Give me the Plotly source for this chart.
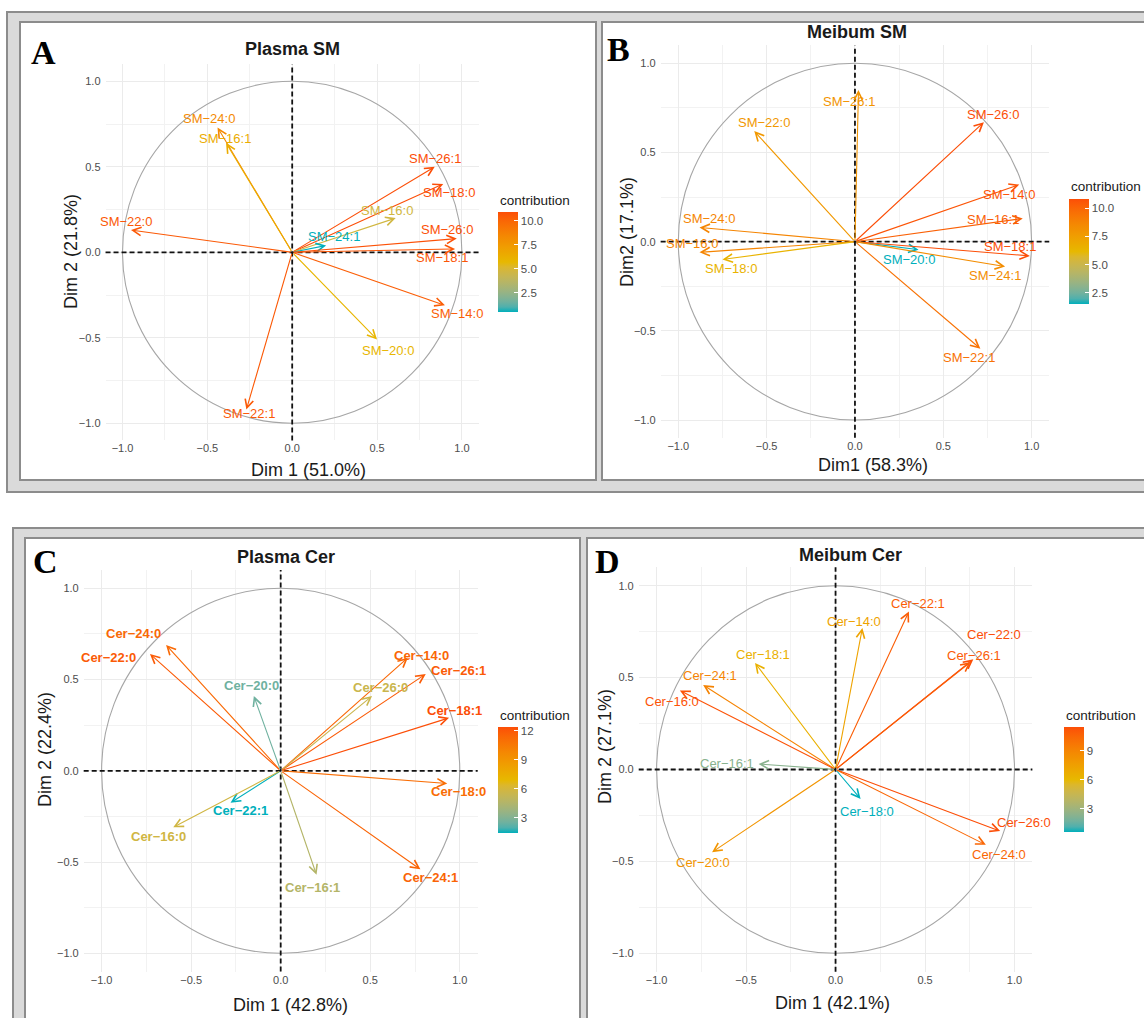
import plotly.graph_objects as go

W, H = 1144, 1018

# ---------------- DATA ----------------
# Panel A: Plasma SM
a_vars = ["SM−22:0", "SM−24:0", "SM−16:1", "SM−26:1", "SM−18:0", "SM−16:0",
          "SM−24:1", "SM−26:0", "SM−18:1", "SM−14:0", "SM−20:0", "SM−22:1"]
a_dim1 = [-0.95, -0.44, -0.39, 0.84, 0.89, 0.61, 0.20, 0.97, 0.96, 0.90, 0.50, -0.27]
a_dim2 = [0.13, 0.73, 0.64, 0.50, 0.40, 0.20, 0.04, 0.08, 0.02, -0.31, -0.51, -0.92]
a_contrib = [10.5, 8.3, 6.4, 10.9, 10.9, 4.7, 0.5, 10.8, 10.6, 10.3, 5.8, 10.5]

# Panel B: Meibum SM
b_vars = ["SM−26:1", "SM−22:0", "SM−26:0", "SM−14:0", "SM−16:1", "SM−24:0",
          "SM−16:0", "SM−18:0", "SM−20:0", "SM−18:1", "SM−24:1", "SM−22:1"]
b_dim1 = [0.02, -0.57, 0.73, 0.93, 0.95, -0.88, -0.88, -0.75, 0.36, 0.99, 0.85, 0.71]
b_dim2 = [0.85, 0.62, 0.67, 0.32, 0.13, 0.08, -0.06, -0.10, -0.045, -0.08, -0.14, -0.60]
b_contrib = [8.0, 7.8, 10.8, 10.6, 10.2, 8.7, 8.7, 6.4, 1.5, 10.8, 8.3, 9.5]

# Panel C: Plasma Cer
c_vars = ["Cer−24:0", "Cer−22:0", "Cer−20:0", "Cer−14:0", "Cer−26:1", "Cer−26:0",
          "Cer−18:1", "Cer−18:0", "Cer−22:1", "Cer−16:0", "Cer−16:1", "Cer−24:1"]
c_dim1 = [-0.64, -0.73, -0.15, 0.71, 0.81, 0.51, 0.94, 0.93, -0.28, -0.60, 0.20, 0.78]
c_dim2 = [0.69, 0.64, 0.41, 0.62, 0.53, 0.41, 0.29, -0.07, -0.175, -0.31, -0.57, -0.54]
c_contrib = [11.3, 11.9, 2.5, 11.4, 11.9, 5.5, 12.4, 11.1, 1.4, 5.8, 4.6, 11.5]

# Panel D: Meibum Cer
d_vars = ["Cer−22:1", "Cer−14:0", "Cer−22:0", "Cer−26:1", "Cer−18:1", "Cer−24:1",
          "Cer−16:0", "Cer−16:1", "Cer−18:0", "Cer−26:0", "Cer−24:0", "Cer−20:0"]
d_dim1 = [0.41, 0.15, 0.77, 0.755, -0.45, -0.74, -0.87, -0.43, 0.14, 0.92, 0.84, -0.69]
d_dim2 = [0.86, 0.77, 0.60, 0.585, 0.58, 0.46, 0.43, 0.03, -0.16, -0.335, -0.41, -0.45]
d_contrib = [10.9, 7.3, 11.5, 11.0, 6.5, 9.1, 11.3, 2.3, 0.55, 11.5, 10.5, 8.1]

titles = ["Plasma SM", "Meibum SM", "Plasma Cer", "Meibum Cer"]
letters = ["A", "B", "C", "D"]
xtitles = ["Dim 1 (51.0%)", "Dim1 (58.3%)", "Dim 1 (42.8%)", "Dim 1 (42.1%)"]
ytitles = ["Dim 2 (21.8%)", "Dim2 (17.1%)", "Dim 2 (22.4%)", "Dim 2 (27.1%)"]
cb_ticks = [[2.5, 5.0, 7.5, 10.0], [2.5, 5.0, 7.5, 10.0], [3, 6, 9, 12], [3, 6, 9]]
cb_ticktext = [["2.5", "5.0", "7.5", "10.0"], ["2.5", "5.0", "7.5", "10.0"],
               ["3", "6", "9", "12"], ["3", "6", "9"]]
axis_ticks = [-1.0, -0.5, 0.0, 0.5, 1.0]

# ---------------- STYLE / LAYOUT ----------------
# label offsets in pixels (dx right, dy down) relative to arrow tips
a_off = [(-5, -9), (-9, -9), (-1, -4), (0, -8), (6, 9), (-9, -8), (8, -9), (-10, -9), (-13, 9), (12, 8), (11, 11), (3, 4)]
b_off = [(-9, 11), (10, -9), (9, -8), (-10, 10), (-30, 1), (10, -9), (-7, -9), (9, 9), (-10, 10), (-20, -9), (-10, 9), (-11, 9)]
c_off = [(-33, -11), (-41, 3), (-2, -10), (14, -2), (33, -4), (8, -8), (5, -7), (11, 8), (10, 8), (-15, 9), (-4, 13), (10, 8)]
d_off = [(9, -8), (-8, -6), (21, -25), (3, -6), (8, -8), (7, -9), (-8, 11), (-32, 0), (6, 13), (24, -9), (13, 10), (-9, 10)]

# pixel geometry of each panel: x pixel of dim1=-1 and +1, y pixel of dim2=+1 and -1
geo = [(122.5, 461.9, 81.3, 423.3), (678.3, 1031.6, 63.3, 420.0),
       (101.6, 459.8, 588.3, 953.3), (656.6, 1014.5, 585.7, 953.3)]
title_pos = [(293, 49), (857, 32), (286, 557), (850, 555)]
letter_pos = [(43, 52), (618, 50), (45, 561), (607, 561)]
xt_pos = [(308, 470), (873, 465), (290, 1005), (832, 1003)]
yt_pos = [(71, 252), (627, 232), (45, 750), (605, 747)]
cb_geo = [(497.5, 212, 312), (1069, 199, 304), (497.5, 727, 833), (1064, 727, 832)]
lt_pos = [(497.5, 200), (1069, 186), (497.5, 715), (1064, 715)]
label_bold = [False, False, True, False]
RNG = 1.1

def px(x):
    return x / W

def py(y):
    return 1 - y / H

# Lab interpolation of the three-colour gradient (as ggplot's gradientn)
def hex2rgb(h):
    h = h.lstrip("#")
    return [int(h[i:i + 2], 16) for i in (0, 2, 4)]

def rgb2lab(rgb):
    def lin(c):
        c = c / 255
        return c / 12.92 if c <= 0.04045 else ((c + 0.055) / 1.055) ** 2.4
    r, g, b = [lin(c) for c in rgb]
    X = (0.4124564 * r + 0.3575761 * g + 0.1804375 * b) / 0.95047
    Y = (0.2126729 * r + 0.7151522 * g + 0.0721750 * b)
    Z = (0.0193339 * r + 0.1191920 * g + 0.9503041 * b) / 1.08883
    f = lambda t: t ** (1 / 3) if t > 0.008856 else 7.787 * t + 16 / 116
    fx, fy, fz = f(X), f(Y), f(Z)
    return [116 * fy - 16, 500 * (fx - fy), 200 * (fy - fz)]

def lab2rgb(lab):
    L, a, b = lab
    fy = (L + 16) / 116
    fx = fy + a / 500
    fz = fy - b / 200
    finv = lambda t: t ** 3 if t ** 3 > 0.008856 else (t - 16 / 116) / 7.787
    X, Y, Z = finv(fx) * 0.95047, finv(fy), finv(fz) * 1.08883
    r = 3.2404542 * X - 1.5371385 * Y - 0.4985314 * Z
    g = -0.9692660 * X + 1.8760108 * Y + 0.0415560 * Z
    bb = 0.0556434 * X - 0.2040259 * Y + 1.0572252 * Z
    def gam(c):
        c = max(0.0, min(1.0, c))
        return 12.92 * c if c <= 0.0031308 else 1.055 * c ** (1 / 2.4) - 0.055
    return [round(gam(c) * 255) for c in (r, g, bb)]

GRAD = [rgb2lab(hex2rgb(h)) for h in ("#00AFBB", "#E7B800", "#FC4E07")]

def grad_color(t):
    t = max(0.0, min(1.0, t))
    if t <= 0.5:
        u, c0, c1 = t / 0.5, GRAD[0], GRAD[1]
    else:
        u, c0, c1 = (t - 0.5) / 0.5, GRAD[1], GRAD[2]
    lab = [c0[i] + (c1[i] - c0[i]) * u for i in range(3)]
    r, g, b = lab2rgb(lab)
    return f"rgb({r},{g},{b})"

colorscale = [[i / 20, grad_color(i / 20)] for i in range(21)]

panels = [
    (a_vars, a_dim1, a_dim2, a_contrib, a_off),
    (b_vars, b_dim1, b_dim2, b_contrib, b_off),
    (c_vars, c_dim1, c_dim2, c_contrib, c_off),
    (d_vars, d_dim1, d_dim2, d_contrib, d_off),
]

fig = go.Figure()
annotations = []
shapes = []
layout_axes = {}

FRAME_LINE = "#8C8C8C"
FRAME_FILL = "#DADADA"
# window-like frames around each row and each panel
shapes += [
    dict(type="rect", xref="paper", yref="paper", x0=px(7), x1=px(1160), y0=py(492), y1=py(12),
         fillcolor=FRAME_FILL, line=dict(color=FRAME_LINE, width=2), layer="below"),
    dict(type="rect", xref="paper", yref="paper", x0=px(20), x1=px(596), y0=py(480), y1=py(22),
         fillcolor="white", line=dict(color=FRAME_LINE, width=2), layer="below"),
    dict(type="rect", xref="paper", yref="paper", x0=px(602), x1=px(1160), y0=py(480), y1=py(22),
         fillcolor="white", line=dict(color=FRAME_LINE, width=2), layer="below"),
    dict(type="rect", xref="paper", yref="paper", x0=px(13), x1=px(1160), y0=py(1040), y1=py(528),
         fillcolor=FRAME_FILL, line=dict(color=FRAME_LINE, width=2), layer="below"),
    dict(type="rect", xref="paper", yref="paper", x0=px(25), x1=px(580), y0=py(1040), y1=py(538),
         fillcolor="white", line=dict(color=FRAME_LINE, width=2), layer="below"),
    dict(type="rect", xref="paper", yref="paper", x0=px(587), x1=px(1160), y0=py(1040), y1=py(538),
         fillcolor="white", line=dict(color=FRAME_LINE, width=2), layer="below"),
]

FONT = "Liberation Sans, Arial, sans-serif"

for k, (names, d1, d2, contrib, offs) in enumerate(panels):
    i = k + 1
    xa = "x" if i == 1 else f"x{i}"
    ya = "y" if i == 1 else f"y{i}"
    xkey = "xaxis" if i == 1 else f"xaxis{i}"
    ykey = "yaxis" if i == 1 else f"yaxis{i}"
    cax = "coloraxis" if i == 1 else f"coloraxis{i}"

    xm1, xp1, yp1, ym1 = geo[k]
    x0, sx = (xm1 + xp1) / 2, (xp1 - xm1) / 2
    y0, sy = (yp1 + ym1) / 2, (ym1 - yp1) / 2
    dom_x = [px(x0 - RNG * sx), px(x0 + RNG * sx)]
    dom_y = [py(y0 + RNG * sy), py(y0 - RNG * sy)]

    common = dict(range=[-RNG, RNG], showgrid=True, gridcolor="#EBEBEB", gridwidth=1.3,
                  zeroline=False, showline=False, ticks="", tickvals=axis_ticks,
                  tickformat=".1f", tickfont=dict(family=FONT, size=11, color="#4D4D4D"),
                  minor=dict(dtick=0.25, tick0=0, showgrid=True, gridcolor="#F2F2F2", gridwidth=0.8),
                  fixedrange=True)
    layout_axes[xkey] = dict(domain=dom_x, anchor=ya, **common)
    layout_axes[ykey] = dict(domain=dom_y, anchor=xa, ticklabelstandoff=4, **common)

    cmin, cmax = min(contrib), max(contrib)
    cbx, cby0, cby1 = cb_geo[k]
    layout_axes[cax] = dict(
        cmin=cmin, cmax=cmax, colorscale=colorscale,
        colorbar=dict(x=px(cbx), xanchor="left", y=py(cby1), yanchor="bottom",
                      len=cby1 - cby0, lenmode="pixels", thickness=20, thicknessmode="pixels",
                      outlinewidth=0, xpad=0, ypad=0, ticks="inside", ticklen=4,
                      tickcolor="white", tickwidth=1, tickvals=cb_ticks[k], ticktext=cb_ticktext[k],
                      tickfont=dict(family=FONT, size=11.5, color="#4D4D4D"),
                      title=dict(text="")))

    # invisible trace that carries the colour scale
    fig.add_trace(go.Scatter(x=d1, y=d2, mode="markers", xaxis=xa, yaxis=ya,
                             marker=dict(color=contrib, coloraxis=cax, size=1, opacity=0),
                             showlegend=False, hoverinfo="skip"))

    # correlation circle and dashed reference lines
    shapes.append(dict(type="circle", xref=xa, yref=ya, x0=-1, x1=1, y0=-1, y1=1,
                       line=dict(color="#A6A6A6", width=1.1), layer="above"))
    shapes.append(dict(type="line", xref=f"{xa} domain", yref=ya, x0=0, x1=1, y0=0, y1=0,
                       line=dict(color="#111111", width=1.8, dash="5px,3px")))
    shapes.append(dict(type="line", xref=xa, yref=f"{ya} domain", x0=0, x1=0, y0=0, y1=1,
                       line=dict(color="#111111", width=1.8, dash="5px,3px")))

    for name, vx, vy, c, (dx, dy) in zip(names, d1, d2, contrib, offs):
        col = grad_color((c - cmin) / (cmax - cmin))
        annotations.append(dict(x=vx, y=vy, ax=0, ay=0, xref=xa, yref=ya, axref=xa, ayref=ya,
                                showarrow=True, arrowhead=5, arrowsize=1.5, arrowwidth=1.1,
                                arrowcolor=col, text="", standoff=0))
        lbl = f"<b>{name}</b>" if label_bold[k] else name
        annotations.append(dict(x=vx, y=vy, xref=xa, yref=ya, text=lbl, showarrow=False,
                                xshift=dx, yshift=-dy, xanchor="center", yanchor="middle",
                                font=dict(family=FONT, size=13, color=col)))

    # titles, letters, axis titles, legend title
    tx, ty = title_pos[k]
    annotations.append(dict(x=px(tx), y=py(ty), xref="paper", yref="paper", text=f"<b>{titles[k]}</b>",
                            showarrow=False, xanchor="center", yanchor="middle",
                            font=dict(family=FONT, size=18, color="#1A1A1A")))
    lx, ly = letter_pos[k]
    annotations.append(dict(x=px(lx), y=py(ly), xref="paper", yref="paper", text=f"<b>{letters[k]}</b>",
                            showarrow=False, xanchor="center", yanchor="middle",
                            font=dict(family="Liberation Serif, Times New Roman, serif", size=34, color="black")))
    xx, xy = xt_pos[k]
    annotations.append(dict(x=px(xx), y=py(xy), xref="paper", yref="paper", text=xtitles[k],
                            showarrow=False, xanchor="center", yanchor="middle",
                            font=dict(family=FONT, size=18, color="#1A1A1A")))
    yx, yy = yt_pos[k]
    annotations.append(dict(x=px(yx), y=py(yy), xref="paper", yref="paper", text=ytitles[k],
                            showarrow=False, xanchor="center", yanchor="middle", textangle=-90,
                            font=dict(family=FONT, size=18, color="#1A1A1A")))
    ltx, lty = lt_pos[k]
    annotations.append(dict(x=px(ltx), y=py(lty), xref="paper", yref="paper", text="contribution",
                            showarrow=False, xanchor="left", yanchor="middle",
                            font=dict(family=FONT, size=13.5, color="#1A1A1A")))

fig.update_layout(
    width=W, height=H, margin=dict(l=0, r=0, t=0, b=0),
    paper_bgcolor="white", plot_bgcolor="rgba(0,0,0,0)",
    showlegend=False, font=dict(family=FONT),
    shapes=shapes, annotations=annotations, **layout_axes,
)

fig.write_html("out.html")
